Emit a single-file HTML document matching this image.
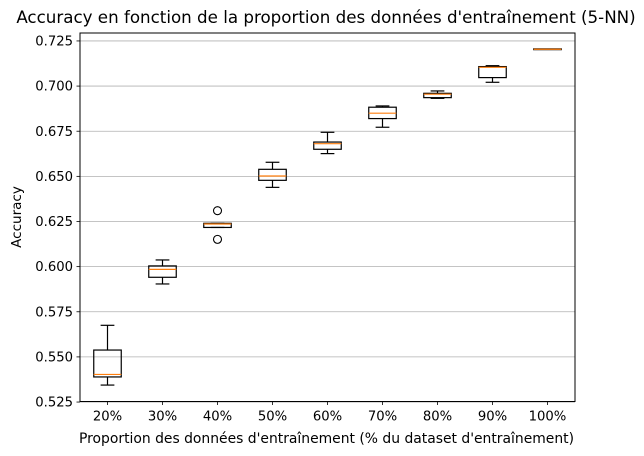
<!DOCTYPE html>
<html><head><meta charset="utf-8"><style>
html,body{margin:0;padding:0;background:#fff;}
svg{display:block;font-family:"DejaVu Sans","Liberation Sans",sans-serif;}
</style></head><body>
<svg id="chart" width="644" height="456" xmlns="http://www.w3.org/2000/svg">
<rect width="644" height="456" fill="#fff"/>
<text x="326" y="23" font-size="16.7" text-anchor="middle">Accuracy en fonction de la proportion des données d'entraînement (5-NN)</text>
<g id="grid"></g>
<g id="boxes"></g>
<rect x="80" y="33" width="495" height="368.5" fill="none" stroke="#000" stroke-width="1"/>
<g id="axes"></g>
<text x="326.5" y="443" font-size="13.9" text-anchor="middle">Proportion des données d'entraînement (% du dataset d'entraînement)</text>
<text transform="translate(21,217) rotate(-90)" font-size="13.5" text-anchor="middle">Accuracy</text>
</svg>
<script>
const categories = ["20%","30%","40%","50%","60%","70%","80%","90%","100%"];
const whiskerLow = [0.5344,0.5904,0.6217,0.6439,0.6626,0.6772,0.6932,0.7021,0.7204];
const q1 = [0.5389,0.5941,0.6217,0.6478,0.6650,0.6820,0.6936,0.7047,0.7204];
const medians = [0.5403,0.5985,0.6236,0.6502,0.6681,0.6850,0.6955,0.7104,0.7204];
const q3 = [0.5538,0.6004,0.6240,0.6539,0.6690,0.6883,0.6960,0.7108,0.7204];
const whiskerHigh = [0.5675,0.6037,0.6240,0.6578,0.6744,0.6890,0.6973,0.7113,0.7204];
const outliers = [[],[],[0.6310,0.6151],[],[],[],[],[],[]];
const yTicks = [0.525,0.550,0.575,0.600,0.625,0.650,0.675,0.700,0.725];
const yTickLabels = ["0.525","0.550","0.575","0.600","0.625","0.650","0.675","0.700","0.725"];

const NS="http://www.w3.org/2000/svg";
const L=80,R=575,T=33,B=401.5;
const yMin=0.5253,yMax=0.7294;
function y(v){return B-(v-yMin)/(yMax-yMin)*(B-T);}
function x(i){return L+(i+0.5)*(R-L)/categories.length;}
const bw=(R-L)/categories.length*0.5;
function mk(tag,attrs,parent){const e=document.createElementNS(NS,tag);for(const k in attrs)e.setAttribute(k,attrs[k]);parent.appendChild(e);return e;}
const grid=document.getElementById('grid'),axes=document.getElementById('axes'),boxes=document.getElementById('boxes');
yTicks.forEach((t,i)=>{
  const g=mk('line',{x1:L,x2:R,y1:y(t),y2:y(t),stroke:'#b0b0b0','stroke-width':0.8},grid);
  
  
  const tk=mk('line',{x1:L-3.5,x2:L,y1:y(t),y2:y(t),stroke:'#000','stroke-width':0.8},axes);
  
  
  const tx=mk('text',{x:L-7,y:y(t)+4.6,'font-size':13.2,'text-anchor':'end'},axes);
  tx.textContent=yTickLabels[i];
  
  
});
categories.forEach((c,i)=>{
  const cx=x(i);
  const tk=mk('line',{x1:cx,x2:cx,y1:B,y2:B+3.5,stroke:'#000','stroke-width':0.8},axes);
  
  
  const tx=mk('text',{x:cx,y:B+19,'font-size':13.2,'text-anchor':'middle'},axes);
  tx.textContent=c;
  
  
  const g=mk('g',{},boxes);
  
  
  const st={stroke:'#000','stroke-width':1.2,fill:'none'};
  const cw=bw/2;
  mk('line',Object.assign({x1:cx,x2:cx,y1:y(q3[i]),y2:y(whiskerHigh[i])},st),g);
  mk('line',Object.assign({x1:cx,x2:cx,y1:y(q1[i]),y2:y(whiskerLow[i])},st),g);
  mk('line',Object.assign({x1:cx-cw/2,x2:cx+cw/2,y1:y(whiskerHigh[i]),y2:y(whiskerHigh[i])},st),g);
  mk('line',Object.assign({x1:cx-cw/2,x2:cx+cw/2,y1:y(whiskerLow[i]),y2:y(whiskerLow[i])},st),g);
  const h=Math.max(0.8,y(q1[i])-y(q3[i]));
  mk('rect',Object.assign({x:cx-bw/2,y:(y(q1[i])+y(q3[i]))/2-h/2,width:bw,height:h},st),g);
  mk('line',{x1:cx-bw/2,x2:cx+bw/2,y1:y(medians[i]),y2:y(medians[i]),stroke:'#ff7f0e','stroke-width':1.2},g);
  outliers[i].forEach(o=>{
    const ci=mk('circle',{cx:cx,cy:y(o),r:4,fill:'none',stroke:'#000','stroke-width':1.1},g);
    
    
  });
});
</script>
</body></html>
